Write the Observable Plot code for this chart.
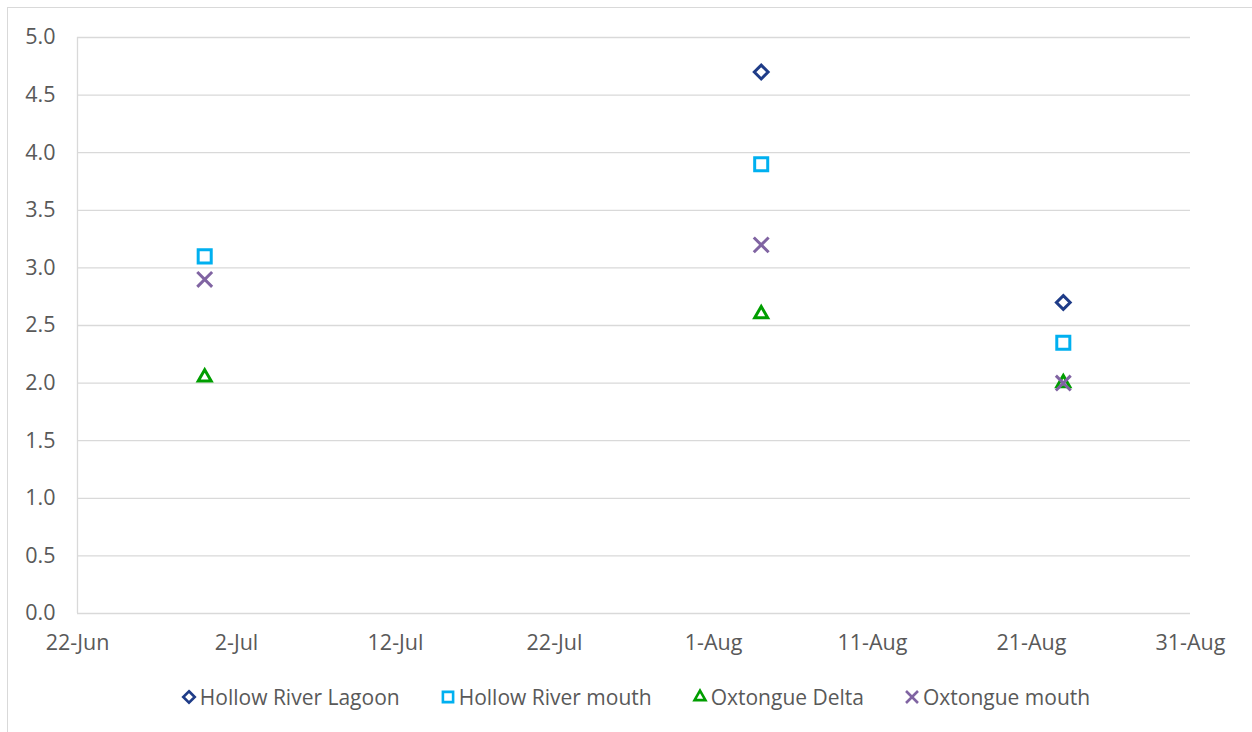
<!DOCTYPE html>
<html><head><meta charset="utf-8">
<script src="https://cdn.jsdelivr.net/npm/d3@7"></script>
<script src="https://cdn.jsdelivr.net/npm/@observablehq/plot@0.6"></script>
<style>
body{margin:0;background:#fff;width:1252px;height:732px;overflow:hidden;font-family:"Open Sans",sans-serif;}
#frame{position:absolute;left:7px;top:7px;width:1250px;height:740px;border:1px solid #d9d9d9;box-sizing:border-box;}
#chart{position:absolute;left:0;top:0;}
#legend{position:absolute;left:9px;top:683px;width:1252px;display:flex;justify-content:center;gap:39px;color:#595959;font-size:21px;}
#legend .it{display:flex;align-items:center;gap:2px;}
</style></head><body>
<div id="frame"></div>
<div id="chart"></div>
<div id="legend"></div>
<script>
const seriesNames = ["Hollow River Lagoon","Hollow River mouth","Oxtongue Delta","Oxtongue mouth"];
const seriesColors = ["#1f3c88","#00b0f0","#009e00","#8064a2"];
const seriesSymbols = ["diamond2","square2","triangle2","times"];
const seriesR = [6.2,8.3,6.2,6.8];

const lagoonDates = ["2019-08-04","2019-08-23"];
const lagoonValues = [4.7,2.7];
const hollowMouthDates = ["2019-06-30","2019-08-04","2019-08-23"];
const hollowMouthValues = [3.1,3.9,2.35];
const deltaDates = ["2019-06-30","2019-08-04","2019-08-23"];
const deltaValues = [2.05,2.6,2.0];
const oxMouthDates = ["2019-06-30","2019-08-04","2019-08-23"];
const oxMouthValues = [2.9,3.2,2.0];

const xTicks = ["2019-06-22","2019-07-02","2019-07-12","2019-07-22","2019-08-01","2019-08-11","2019-08-21","2019-08-31"];
const yTicks = [0,0.5,1,1.5,2,2.5,3,3.5,4,4.5,5];

const allDates = [lagoonDates,hollowMouthDates,deltaDates,oxMouthDates];
const allValues = [lagoonValues,hollowMouthValues,deltaValues,oxMouthValues];
const rows = allDates.map((ds,i)=>ds.map((d,j)=>({date:new Date(d),value:allValues[i][j],series:seriesNames[i]})));

const fmt = d3.utcFormat("%-d-%b");
const chart = Plot.plot({
  width:1252, height:670,
  marginLeft:77, marginRight:62, marginTop:37, marginBottom:57,
  style:{fontFamily:"Open Sans, sans-serif", fontSize:"21.5px", color:"#595959", background:"transparent"},
  x:{type:"utc", domain:[new Date(xTicks[0]), new Date(xTicks[xTicks.length-1])]},
  y:{domain:[0,5]},
  marks:[
    Plot.gridY(yTicks,{stroke:"#d9d9d9",strokeOpacity:1,strokeWidth:1.3}),
    Plot.ruleX([new Date(xTicks[0])],{stroke:"#d9d9d9",strokeWidth:1.3}),
    Plot.axisY(yTicks,{tickSize:0,tickPadding:22,tickFormat:d=>d.toFixed(1),label:null,fill:"#595959"}),
    Plot.axisX(xTicks.map(d=>new Date(d)),{tickSize:0,tickPadding:21,tickFormat:fmt,label:null,fill:"#595959"}),
    ...rows.map((r,i)=>Plot.dot(r,{x:"date",y:"value",symbol:()=>seriesSymbols[i],r:seriesR[i],stroke:seriesColors[i],strokeWidth:3,fill:"none"}))
  ]
});
document.getElementById("chart").appendChild(chart);

const leg = document.getElementById("legend");
const legR = [5.2,6.5,5.2,5.5];
const legSyms = [d3.symbolDiamond2,d3.symbolSquare2,d3.symbolTriangle2,d3.symbolTimes];
seriesNames.forEach((n,i)=>{
  const it=document.createElement("div");it.className="it";
  const s=d3.create("svg").attr("width",18).attr("height",18);
  s.append("path").attr("transform","translate(9,9)")
    .attr("d",d3.symbol(legSyms[i], Math.PI*legR[i]*legR[i])())
    .attr("fill","none").attr("stroke",seriesColors[i]).attr("stroke-width",2.6);
  it.appendChild(s.node());
  const t=document.createElement("span");t.textContent=n;it.appendChild(t);
  leg.appendChild(it);
});
</script>
</body></html>
